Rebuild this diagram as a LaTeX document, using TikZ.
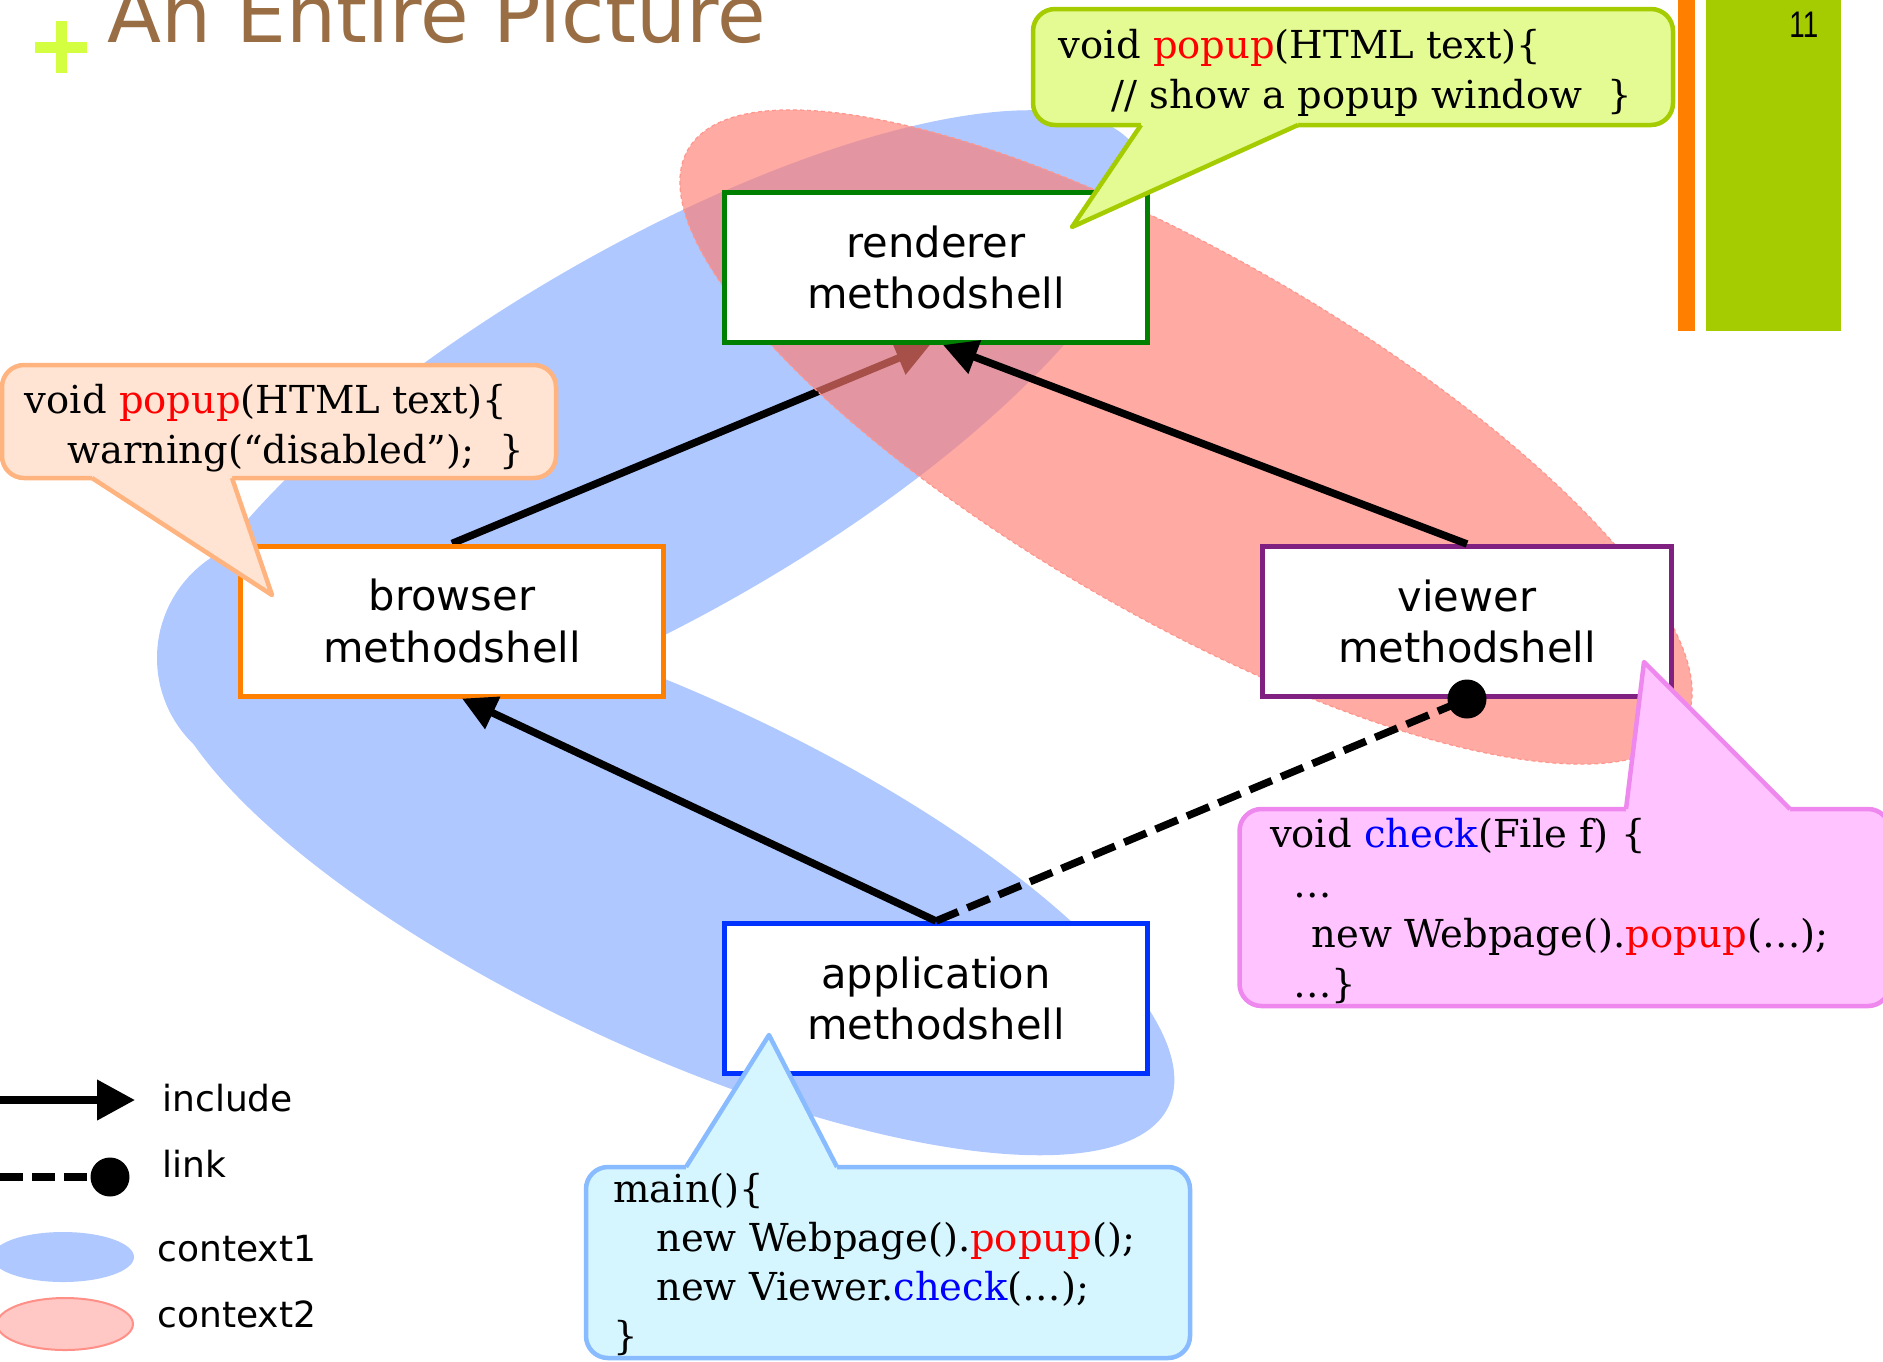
\documentclass[tikz,border=0pt]{standalone}
\usepackage{fontspec}
\setmainfont{DejaVu Sans}
\newfontfamily\codefont{DejaVu Serif}
\newfontfamily\numfont[FakeStretch=0.75]{Liberation Sans}
\usetikzlibrary{arrows.meta,calc}

\definecolor{titlebrown}{RGB}{154,110,68}
\definecolor{plusgreen}{RGB}{212,255,64}
\definecolor{barorange}{RGB}{255,128,0}
\definecolor{bargreen}{RGB}{165,204,0}
\definecolor{ctxblue}{RGB}{175,200,255}
\definecolor{ctxred}{RGB}{255,124,113}
\definecolor{ctxredline}{RGB}{255,150,140}
\definecolor{legred}{RGB}{255,200,196}
\definecolor{legredline}{RGB}{255,143,135}
\definecolor{rendgreen}{RGB}{0,128,0}
\definecolor{brorange}{RGB}{255,128,0}
\definecolor{viewpurple}{RGB}{128,32,128}
\definecolor{appblue}{RGB}{0,51,255}
\definecolor{gfill}{RGB}{228,250,146}
\definecolor{gedge}{RGB}{165,204,0}
\definecolor{ofill}{RGB}{255,228,212}
\definecolor{oedge}{RGB}{255,180,128}
\definecolor{pfill}{RGB}{255,196,255}
\definecolor{pedge}{RGB}{238,136,238}
\definecolor{bfill}{RGB}{214,246,255}
\definecolor{bedge}{RGB}{136,187,255}
\definecolor{kwred}{RGB}{255,0,0}
\definecolor{kwblue}{RGB}{0,0,255}

\newcommand\redword[1]{\textcolor{kwred}{#1}}
\newcommand\blueword[1]{\textcolor{kwblue}{#1}}

\pgfdeclarelayer{back}
\pgfsetlayers{back,main}

\tikzset{
  shell/.style={draw, line width=2.5pt, fill=white, minimum width=211.5pt,
    minimum height=75pt, inner sep=0pt, align=center,
    font=\fontsize{20.8}{25.8}\selectfont},
  incl/.style={line width=3.75pt, -{Triangle[length=17pt,width=17pt]}},
  linkline/.style={line width=3.75pt, dash pattern=on 12pt off 5pt},
  balloon/.style={line width=2.25pt, line join=round, rounded corners=11pt},
  pointer/.style={line width=2.25pt, line join=round},
  code/.style={font=\codefont\fontsize{19.25}{25}\selectfont, inner sep=0pt, anchor=base west},
  legtext/.style={font=\fontsize{18}{22}\selectfont, inner sep=0pt, anchor=base west},
}

\begin{document}
\begin{tikzpicture}[x=0.5pt,y=-0.5pt]
\useasboundingbox (0,0) rectangle (1883,1361);

% slide header
\node[font=\fontsize{39.5}{45}\selectfont, text=titlebrown, anchor=base west, inner sep=0pt]
  (title) at (107,42) {An Entire Picture};
\fill[plusgreen] (35,41.5) rectangle (87,52.5);
\fill[plusgreen] (55.5,21) rectangle (66.5,73);
\fill[barorange] (1678,0) rectangle (1695,331);
\fill[bargreen] (1706,0) rectangle (1841,331);
\node[font=\numfont\fontsize{18.5}{20}\selectfont, anchor=base west, inner sep=0pt]
  (pagenum) at (1789,37) {11};

% method shells
\node[shell, draw=rendgreen] (renderer) at (936,267.5) {renderer\\methodshell};
\node[shell, draw=brorange] (browser) at (452,621) {browser\\methodshell};
\node[shell, draw=viewpurple, minimum width=204.5pt] (viewer) at (1467,621.5) {viewer\vphantom{d}\\methodshell};
\node[shell, draw=appblue] (application) at (936,998.5) {application\\methodshell};

% contexts and the include edge that lies beneath context2
\begin{pgfonlayer}{back}
  % context1: two lobes joined by a rounded left end
  \fill[ctxblue, rotate around={30:(657.3,430.5)}] (657.3,430.5) ellipse [x radius=556, y radius=183.5];
  \fill[ctxblue, rotate around={-25:(668.5,872.6)}] (668.5,872.6) ellipse [x radius=552, y radius=176];
  \fill[ctxblue] (277,658) circle [radius=120];
  \draw[incl] (browser.north) -- ([xshift=-3pt]renderer.south);
  % context2
  \fill[ctxred, fill opacity=0.65, rotate around={-30:(1186,437)}] (1186,437) ellipse [x radius=575, y radius=180];
  \draw[ctxredline, line width=0.6pt, dash pattern=on 2pt off 1.5pt, rotate around={-30:(1186,437)}] (1186,437) ellipse [x radius=575, y radius=180];
\end{pgfonlayer}

% include and link edges
\draw[incl] (viewer.north) -- ([xshift=3.5pt]renderer.south);
\draw[incl] (application.north) -- ([xshift=5pt]browser.south);
\draw[linkline] (application.north) -- (viewer.south);
\fill (viewer.south) circle [radius=19.5];

% speech balloons
\filldraw[balloon, fill=gfill, draw=gedge] (1033,9) rectangle (1673,125);
\fill[gfill] (1141,121) -- (1141,125) -- (1072,227) -- (1298,125) -- (1298,121) -- cycle;
\draw[pointer, draw=gedge] (1141,125) -- (1072,227) -- (1298,125);

\filldraw[balloon, fill=ofill, draw=oedge] (2,365) rectangle (556,478);
\fill[ofill] (92,474) -- (92,478) -- (272,595) -- (232,478) -- (232,474) -- cycle;
\draw[pointer, draw=oedge] (92,478) -- (272,595) -- (232,478);

\filldraw[balloon, fill=pfill, draw=pedge] (1239.5,809) rectangle (1890,1006);
\fill[pfill] (1626,813) -- (1626,809) -- (1644,662) -- (1790,809) -- (1790,813) -- cycle;
\draw[pointer, draw=pedge] (1626,809) -- (1644,662) -- (1790,809);

\filldraw[balloon, fill=bfill, draw=bedge] (586,1167) rectangle (1190,1358);
\fill[bfill] (686,1171) -- (686,1167) -- (769,1035) -- (837,1167) -- (837,1171) -- cycle;
\draw[pointer, draw=bedge] (686,1167) -- (769,1035) -- (837,1167);

% code in the balloons
\node[code] (gcode) at (1058.5,58) {\begin{tabular}[t]{@{}l@{}}void \redword{popup}(HTML text)\{\\\hspace*{26.25pt}// show a popup window\ \ \}\end{tabular}};
\node[code] (ocode) at (24.5,413) {\begin{tabular}[t]{@{}l@{}}void \redword{popup}(HTML text)\{\\\hspace*{21.25pt}warning(“disabled”);\ \ \}\end{tabular}};
\node[code] (pcode) at (1269.6,847) {\begin{tabular}[t]{@{}l@{}}void \blueword{check}(File f) \{\\\hspace*{11.5pt}…\\\hspace*{20.75pt}new Webpage().\redword{popup}(…);\\\hspace*{11.5pt}…\}\end{tabular}};
\node[code, font=\codefont\fontsize{19.25}{24.5}\selectfont] (bcode) at (613,1202) {\begin{tabular}[t]{@{}l@{}}main()\{\\\hspace*{21.5pt}new Webpage().\redword{popup}();\\\hspace*{21.5pt}new Viewer.\blueword{check}(…);\\\}\end{tabular}};

% legend
\coordinate (incS) at (0,1100);
\coordinate (incE) at (135,1100);
\draw[line width=3.75pt, -{Triangle[length=19pt,width=19.5pt]}] (incS) -- (incE);
\node[legtext] (tinclude) at (162,1111.7) {include};
\coordinate (lnkS) at (0,1177);
\coordinate (lnkE) at (110,1177);
\draw[line width=3.75pt, dash pattern=on 11.5pt off 4.5pt] (lnkS) -- (lnkE);
\fill (lnkE) circle [radius=19.5];
\node[legtext] (tlink) at (162,1177) {link};
\fill[ctxblue] (63,1257) ellipse [x radius=71, y radius=25];
\node[legtext] (tctxone) at (157,1261) {context1};
\filldraw[fill=legred, draw=legredline, line width=1pt] (65,1324) ellipse [x radius=68, y radius=26];
\node[legtext] (tctxtwo) at (157,1327) {context2};
\end{tikzpicture}
\end{document}
